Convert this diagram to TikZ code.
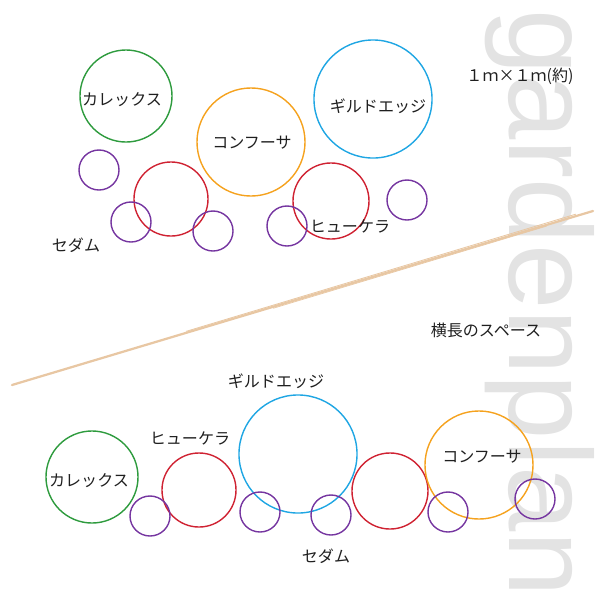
\documentclass[tikz,border=0pt]{standalone}
\usepackage{fontspec}
\usepackage{xcolor}
\usepackage{tikz}
\usetikzlibrary{calc}
\newfontfamily\jpfont{Noto Sans CJK JP}
\newfontfamily\titlefont{Liberation Sans}
\definecolor{carexgreen}{HTML}{2E9B3E}
\definecolor{coniferorange}{HTML}{F5A21E}
\definecolor{gildblue}{HTML}{1FA6E3}
\definecolor{heucherared}{HTML}{CF2232}
\definecolor{sedumpurple}{HTML}{7535A0}
\definecolor{brushtan}{HTML}{E8C7A3}
\definecolor{titlegray}{HTML}{E3E3E3}
\tikzset{
    plant-ring/.style = {circle, draw, line width=1pt, inner sep=0pt, minimum size=#1*0.05cm},
    carex-ring/.style = {plant-ring=#1, draw=carexgreen},
    conifer-ring/.style = {plant-ring=#1, draw=coniferorange},
    gild-ring/.style = {plant-ring=#1, draw=gildblue},
    heuchera-ring/.style = {plant-ring=#1, draw=heucherared},
    sedum-ring/.style = {plant-ring=#1, draw=sedumpurple},
    plant-label/.style = {font=\jpfont\fontsize{11.4}{13}\selectfont, text=black!88, inner sep=0pt},
    brush-stroke/.style = {draw=brushtan, line cap=round},
}

\begin{document}
\begin{tikzpicture}[x=0.025cm, y=-0.025cm]
\useasboundingbox (0,0) rectangle (600,600);

% big title on the right
\node[font=\titlefont\fontsize{83.5}{84}\selectfont, text=titlegray, rotate=-90, anchor=base west, inner sep=0pt] (title) at (509,9) {gardenplan};

% ---- square bed (top) ----
\node[carex-ring=46] (carex-a) at (126,96) {};
\node[conifer-ring=54] (conifer-a) at (251,142) {};
\node[gild-ring=59] (gild-a) at (373,99) {};
\node[heuchera-ring=37] (heuchera-a1) at (171,199) {};
\node[heuchera-ring=38] (heuchera-a2) at (331,201) {};
\node[sedum-ring=20] (sedum-a1) at (99,170) {};
\node[sedum-ring=20] (sedum-a2) at (131,222) {};
\node[sedum-ring=20] (sedum-a3) at (213,231) {};
\node[sedum-ring=20] (sedum-a4) at (287,226) {};
\node[sedum-ring=20] (sedum-a5) at (407,200) {};

\node[plant-label] (carex-a-label) at (122,100) {カレックス};
\node[plant-label] (conifer-a-label) at (252,143) {コンフーサ};
\node[plant-label] (gild-a-label) at (378,106) {ギルドエッジ};
\node[plant-label] (heuchera-a-label) at (350,226) {ヒューケラ};
\node[plant-label] (sedum-a-label) at (76,245) {セダム};
\node[plant-label] (size-label) at (520,76) {１ｍ×１ｍ(約)};

% ---- divider ----
\coordinate (brush-start) at (12,385);
\coordinate (brush-end) at (593,211);
\draw[brush-stroke, line width=1.6pt] (brush-start) -- (brush-end);
\draw[brush-stroke, line width=0.6pt] ($(brush-start)!0.3!(brush-end)+(0,-1.5)$) -- ($(brush-start)!0.97!(brush-end)+(0,-2)$);
\draw[brush-stroke, line width=0.5pt] ($(brush-start)!0.45!(brush-end)+(0,1.5)$) -- ($(brush-start)!0.92!(brush-end)+(0,1.2)$);

\node[plant-label] (long-label) at (486,330) {横長のスペース};

% ---- long bed (bottom) ----
\node[carex-ring=46] (carex-b) at (92,477) {};
\node[heuchera-ring=37] (heuchera-b1) at (199,490) {};
\node[gild-ring=59] (gild-b) at (298,454) {};
\node[heuchera-ring=38] (heuchera-b2) at (390,491) {};
\node[conifer-ring=54] (conifer-b) at (479,465) {};
\node[sedum-ring=20] (sedum-b1) at (150,516) {};
\node[sedum-ring=20] (sedum-b2) at (260,512) {};
\node[sedum-ring=20] (sedum-b3) at (331,515) {};
\node[sedum-ring=20] (sedum-b4) at (448,512) {};
\node[sedum-ring=20] (sedum-b5) at (535,499) {};

\node[plant-label] (gild-b-label) at (276,381) {ギルドエッジ};
\node[plant-label] (heuchera-b-label) at (190,438) {ヒューケラ};
\node[plant-label] (carex-b-label) at (89,481) {カレックス};
\node[plant-label] (conifer-b-label) at (482,457) {コンフーサ};
\node[plant-label] (sedum-b-label) at (326,556) {セダム};
\end{tikzpicture}
\end{document}
